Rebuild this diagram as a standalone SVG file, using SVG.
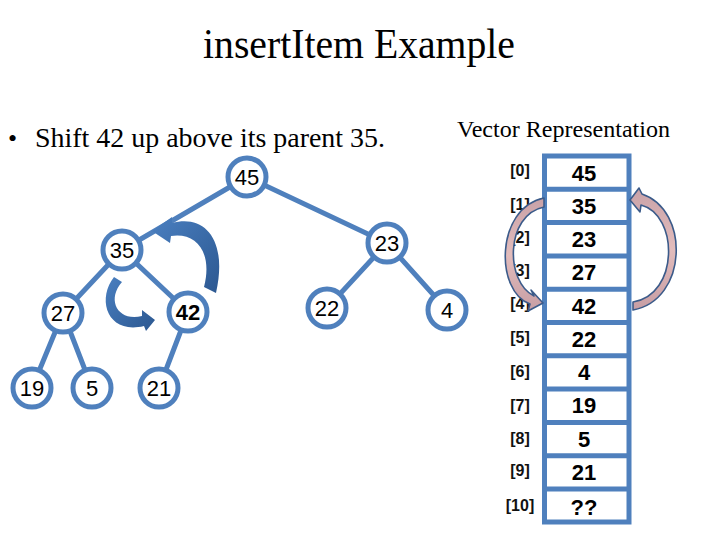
<svg xmlns="http://www.w3.org/2000/svg" width="720" height="540" viewBox="0 0 720 540">
<style>
.serif{font-family:"Liberation Serif","Times New Roman",serif;fill:#000}
.edge{stroke:#4f80bd;stroke-width:5;stroke-linecap:round}
.node circle{fill:#fff;stroke:#4f80bd;stroke-width:5}
.node text{font-family:"Liberation Sans",Arial,sans-serif;font-size:22px;text-anchor:middle;fill:#000}
.cellv{font-family:"Liberation Sans",Arial,sans-serif;font-size:22px;font-weight:bold;text-anchor:middle;fill:#000}
.idx{font-family:"Liberation Sans",Arial,sans-serif;font-size:16px;font-weight:bold;text-anchor:middle;fill:#111}
.div{stroke:#4f80bd;stroke-width:5}
.blk{fill:url(#gBlue)}
.pink{fill:url(#gPink);stroke:#3b5b8a;stroke-width:1.6;stroke-linejoin:round}
</style>
<defs>
<linearGradient id="gBlue" x1="0" y1="0" x2="1" y2="1">
<stop offset="0" stop-color="#4a7fc0"/>
<stop offset="1" stop-color="#2c5891"/>
</linearGradient>
<linearGradient id="gPink" x1="0" y1="0" x2="0" y2="1">
<stop offset="0" stop-color="#c9a2a8"/>
<stop offset="0.5" stop-color="#e2bcbc"/>
<stop offset="1" stop-color="#c79ea4"/>
</linearGradient>
</defs>
<rect width="720" height="540" fill="#fff"/>
<text class="serif" x="203" y="58" font-size="42" textLength="312" lengthAdjust="spacingAndGlyphs">insertItem Example</text>
<text class="serif" x="8" y="147" font-size="26">•</text>
<text class="serif" x="35" y="147" font-size="28" textLength="350" lengthAdjust="spacingAndGlyphs">Shift 42 up above its parent 35.</text>
<text class="serif" x="457" y="137" font-size="23" textLength="213" lengthAdjust="spacingAndGlyphs">Vector Representation</text>
<g id="connectors">
<line class="edge" x1="247" y1="177" x2="122" y2="250"/>
<line class="edge" x1="247" y1="177" x2="387" y2="243"/>
<line class="edge" x1="122" y1="250" x2="63" y2="313"/>
<line class="edge" x1="122" y1="250" x2="188" y2="312"/>
<line class="edge" x1="387" y1="243" x2="327" y2="308"/>
<line class="edge" x1="387" y1="243" x2="447" y2="310"/>
<line class="edge" x1="63" y1="313" x2="32" y2="388"/>
<line class="edge" x1="63" y1="313" x2="92" y2="388"/>
<line class="edge" x1="188" y1="312" x2="159" y2="388"/>
</g>
<g id="n45" class="node"><circle cx="247" cy="177" r="19"/><text x="247" y="185">45</text></g>
<g id="n35" class="node"><circle cx="122" cy="250" r="19"/><text x="122" y="258">35</text></g>
<g id="n23" class="node"><circle cx="387" cy="243" r="19"/><text x="387" y="251">23</text></g>
<g id="n27" class="node"><circle cx="63" cy="313" r="19"/><text x="63" y="321">27</text></g>
<g id="n42" class="node"><circle cx="188" cy="312" r="19"/><text x="188" y="320" font-weight="bold">42</text></g>
<g id="n22" class="node"><circle cx="327" cy="308" r="19"/><text x="327" y="316">22</text></g>
<g id="n4" class="node"><circle cx="447" cy="310" r="19"/><text x="447" y="318">4</text></g>
<g id="n19" class="node"><circle cx="32" cy="388" r="19"/><text x="32" y="396">19</text></g>
<g id="n5" class="node"><circle cx="92" cy="388" r="19"/><text x="92" y="396">5</text></g>
<g id="n21" class="node"><circle cx="159" cy="388" r="19"/><text x="159" y="396">21</text></g>
<g id="tree-arrows">
<path class="blk" d="M152 231 L172 217 L172 223 C205 214 228 240 216 293 L204 287 C213 252 196 232 171 236 L170 243 Z"/>
<path class="blk" d="M155 320 L142 310 L142 316 C118 322 106 300 122 282 L114 277 C96 300 108 335 144 326 L146 331 Z"/>
</g>
<g id="vector">
<rect x="544.5" y="156" width="84.5" height="366" fill="#fff" stroke="#4f80bd" stroke-width="5"/>
<line class="div" x1="544" y1="189.3" x2="629" y2="189.3"/>
<line class="div" x1="544" y1="222.6" x2="629" y2="222.6"/>
<line class="div" x1="544" y1="255.9" x2="629" y2="255.9"/>
<line class="div" x1="544" y1="289.2" x2="629" y2="289.2"/>
<line class="div" x1="544" y1="322.5" x2="629" y2="322.5"/>
<line class="div" x1="544" y1="355.8" x2="629" y2="355.8"/>
<line class="div" x1="544" y1="389.1" x2="629" y2="389.1"/>
<line class="div" x1="544" y1="422.4" x2="629" y2="422.4"/>
<line class="div" x1="544" y1="455.7" x2="629" y2="455.7"/>
<line class="div" x1="544" y1="489" x2="629" y2="489"/>
<text class="cellv" x="584" y="181">45</text>
<text class="cellv" x="584" y="214">35</text>
<text class="cellv" x="584" y="247">23</text>
<text class="cellv" x="584" y="280">27</text>
<text class="cellv" x="584" y="314">42</text>
<text class="cellv" x="584" y="347">22</text>
<text class="cellv" x="584" y="380">4</text>
<text class="cellv" x="584" y="413">19</text>
<text class="cellv" x="584" y="447">5</text>
<text class="cellv" x="584" y="480">21</text>
<text class="cellv" x="584" y="515">??</text>
<text class="idx" x="520" y="176">[0]</text>
<text class="idx" x="520" y="210">[1]</text>
<text class="idx" x="520" y="243">[2]</text>
<text class="idx" x="520" y="276">[3]</text>
<text class="idx" x="520" y="309">[4]</text>
<text class="idx" x="520" y="343">[5]</text>
<text class="idx" x="520" y="377">[6]</text>
<text class="idx" x="520" y="411">[7]</text>
<text class="idx" x="520" y="444">[8]</text>
<text class="idx" x="520" y="476">[9]</text>
<text class="idx" x="520" y="511">[10]</text>
</g>
<g id="vector-arrows">
<path class="pink" d="M543 303 L531 290 L534 296 C505 282 505 215 544 207 L544 198 C495 208 495 292 530 304 L528 311 Z"/>
<path class="pink" d="M630 200 L639 188 L642 194 C690 210 688 300 633 310 L633 302 C679 295 679 215 641 205 L640 212 Z"/>
</g>
</svg>
